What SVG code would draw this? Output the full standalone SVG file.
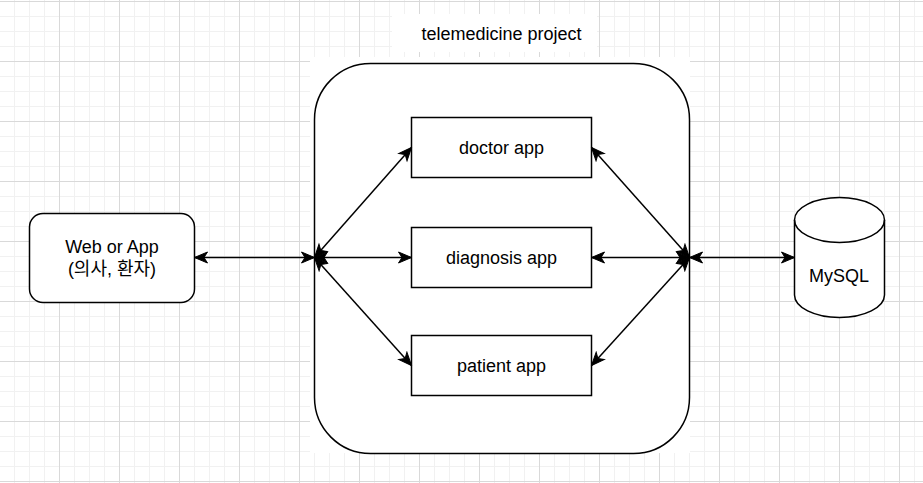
<svg xmlns="http://www.w3.org/2000/svg" width="923" height="483" viewBox="0 0 923 483">
<style>
.shape{fill:#ffffff;stroke:#000000;stroke-width:1.5}
.lbl{font-family:"Liberation Sans",Arial,"Noto Sans CJK KR",sans-serif;font-size:18px;fill:#000000;text-anchor:middle}
.conn{stroke:#000000;stroke-width:1.5;fill:none;marker-start:url(#arr);marker-end:url(#arr)}
</style>
<defs>
<pattern id="minor" x="14" y="1" width="15" height="15" patternUnits="userSpaceOnUse">
<path d="M0.5 0V15M0 0.5H15" stroke="#f1f1f1" stroke-width="1" fill="none"/>
</pattern>
<pattern id="major" x="59" y="1" width="60" height="60" patternUnits="userSpaceOnUse">
<path d="M0.5 0V60M0 0.5H60" stroke="#d9d9d9" stroke-width="1" fill="none"/>
</pattern>
<marker id="arr" markerUnits="userSpaceOnUse" viewBox="-14 -7 15 14" refX="0" refY="0" markerWidth="15" markerHeight="14" orient="auto-start-reverse">
<path d="M0,0 L-13,-5.5 L-9.5,0 L-13,5.5 Z" fill="#000000" stroke="#000000" stroke-width="1"/>
</marker>
</defs>
<g id="background">
<rect width="923" height="483" fill="#ffffff"/>
<rect width="923" height="483" fill="url(#minor)"/>
<rect width="923" height="483" fill="url(#major)"/>
<rect x="310" y="57" width="380" height="396" fill="#ffffff"/>
<rect x="392" y="14" width="205" height="38" fill="#ffffff"/>
</g>
<g id="title">
<text class="lbl" x="501.5" y="40">telemedicine project</text>
</g>
<g id="container">
<rect class="shape" x="314.5" y="63.5" width="375" height="390" rx="56" ry="56"/>
</g>
<g id="doctor-app">
<rect class="shape" x="411.5" y="117.5" width="180" height="60"/>
<text class="lbl" x="501.5" y="153.5">doctor app</text>
</g>
<g id="diagnosis-app">
<rect class="shape" x="411.5" y="227.5" width="180" height="60"/>
<text class="lbl" x="501.5" y="263.5">diagnosis app</text>
</g>
<g id="patient-app">
<rect class="shape" x="411.5" y="335.5" width="180" height="60"/>
<text class="lbl" x="501.5" y="371.5">patient app</text>
</g>
<g id="web-or-app">
<rect class="shape" x="29.5" y="213.5" width="165" height="89" rx="13.5" ry="13.5"/>
<text class="lbl" x="112" y="253">Web or App</text>
<text class="lbl" x="112" y="274.5">(의사, 환자)</text>
</g>
<g id="mysql">
<path class="shape" d="M794.5,220 A45,22.5 0 0 1 884.5,220 V295 A45,22.5 0 0 1 794.5,295 Z"/>
<path class="shape" style="fill:none" d="M794.5,220 A45,22.5 0 0 0 884.5,220"/>
<text class="lbl" x="839" y="282">MySQL</text>
</g>
<g id="connectors">
<line class="conn" x1="194.5" y1="257.5" x2="314.5" y2="257.5"/>
<line class="conn" x1="314.5" y1="257.5" x2="411.5" y2="147.5"/>
<line class="conn" x1="314.5" y1="257.5" x2="411.5" y2="257.5"/>
<line class="conn" x1="314.5" y1="257.5" x2="411.5" y2="365.5"/>
<line class="conn" x1="689.5" y1="257.5" x2="591.5" y2="147.5"/>
<line class="conn" x1="689.5" y1="257.5" x2="591.5" y2="257.5"/>
<line class="conn" x1="689.5" y1="257.5" x2="591.5" y2="365.5"/>
<line class="conn" x1="689.5" y1="257.5" x2="794.5" y2="257.5"/>
</g>
</svg>
